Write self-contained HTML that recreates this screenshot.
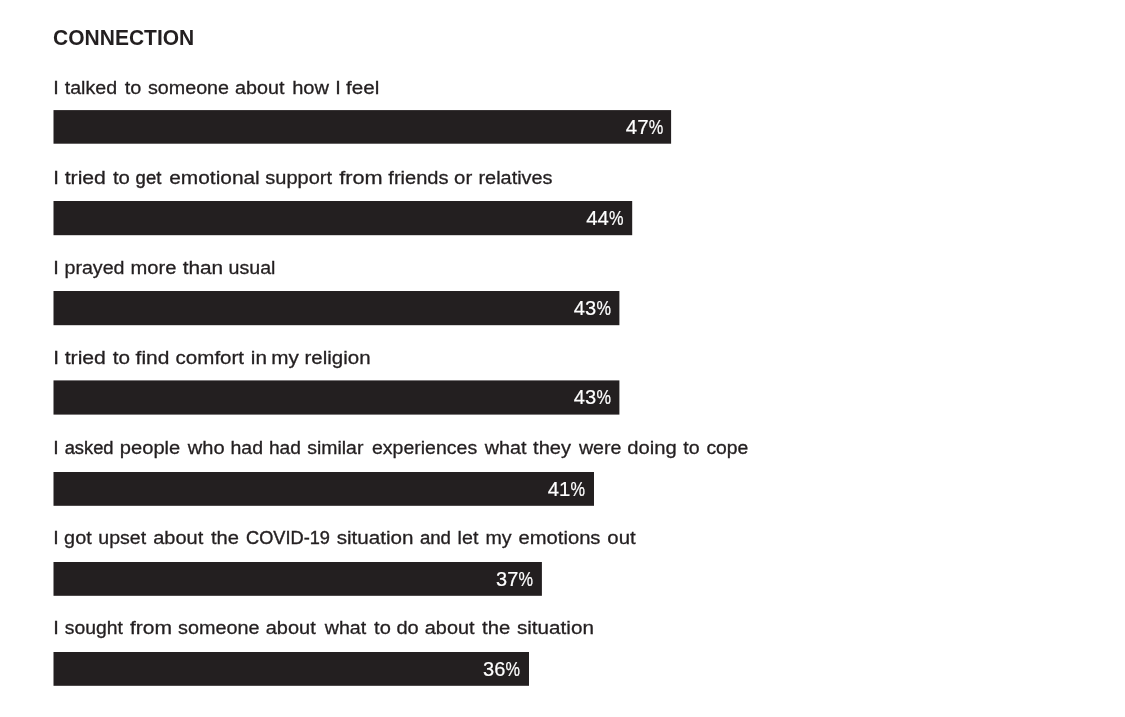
<!DOCTYPE html>
<html lang="en"><head><meta charset="utf-8"><title>Connection</title>
<style>
html,body{margin:0;padding:0;background:#fff;}
body{width:1125px;height:717px;position:relative;overflow:hidden;font-family:"Liberation Sans",sans-serif;color:#231f20;}
.h{position:absolute;left:0;top:0;margin:0;white-space:nowrap;line-height:1;transform-origin:0 0;font-weight:bold;}
.l{position:absolute;left:0;top:0;margin:0;font-size:19.10px;line-height:1;-webkit-text-stroke:0.3px #231f20;}
.l span{position:absolute;left:0;top:0;white-space:nowrap;transform-origin:0 0;}
.b{position:absolute;pointer-events:none;}
.p{position:absolute;left:0;top:0;line-height:1;color:#fff;-webkit-text-stroke:0.2px #fff;}
.p span{position:absolute;left:0;top:0;white-space:nowrap;transform-origin:0 0;}
</style></head><body>
<h1 class="h" style="font-size:21.60px;transform:translate(53.10px,26.92px) scaleX(0.9723)">CONNECTION</h1>
<p class="l"><span style="-webkit-text-stroke-width:0.30px;transform:translate(53.30px,78.13px) scaleX(1.0403)">I</span> <span style="-webkit-text-stroke-width:0.30px;transform:translate(64.70px,78.13px) scaleX(1.0272)">talked</span> <span style="-webkit-text-stroke-width:0.30px;transform:translate(124.74px,78.13px) scaleX(1.0403)">to</span> <span style="-webkit-text-stroke-width:0.30px;transform:translate(147.90px,78.13px) scaleX(1.0330)">someone</span> <span style="-webkit-text-stroke-width:0.30px;transform:translate(235.10px,78.13px) scaleX(1.0335)">about</span> <span style="-webkit-text-stroke-width:0.30px;transform:translate(292.15px,78.13px) scaleX(1.0515)">how</span> <span style="-webkit-text-stroke-width:0.30px;transform:translate(335.25px,78.13px) scaleX(1.0403)">I</span> <span style="-webkit-text-stroke-width:0.30px;transform:translate(346.00px,78.13px) scaleX(1.0798)">feel</span></p>
<svg class="b" width="1125" height="717" viewBox="0 0 1125 717" style="left:0;top:0"><rect x="53.50" y="110.10" width="617.60" height="33.60" fill="#231f20"/></svg>
<div class="p" style="font-size:20.30px"><span style="transform:translate(625.80px,117.02px) scaleX(1.0099)">47</span><span style="transform:translate(648.80px,117.02px) scaleX(0.8056)">%</span></div>
<p class="l"><span style="-webkit-text-stroke-width:0.30px;transform:translate(53.23px,167.98px) scaleX(1.0667)">I</span> <span style="-webkit-text-stroke-width:0.30px;transform:translate(64.70px,167.98px) scaleX(1.1089)">tried</span> <span style="-webkit-text-stroke-width:0.30px;transform:translate(112.89px,167.98px) scaleX(1.0667)">to</span> <span style="-webkit-text-stroke-width:0.39px;transform:translate(135.60px,167.98px) scaleX(0.9692)">get</span> <span style="-webkit-text-stroke-width:0.30px;transform:translate(169.20px,167.98px) scaleX(1.0938)">emotional</span> <span style="-webkit-text-stroke-width:0.30px;transform:translate(265.30px,167.98px) scaleX(1.0484)">support</span> <span style="-webkit-text-stroke-width:0.30px;transform:translate(339.20px,167.98px) scaleX(1.1373)">from</span> <span style="-webkit-text-stroke-width:0.30px;transform:translate(388.30px,167.98px) scaleX(1.0518)">friends</span> <span style="-webkit-text-stroke-width:0.30px;transform:translate(454.05px,167.98px) scaleX(1.0667)">or</span> <span style="-webkit-text-stroke-width:0.30px;transform:translate(478.46px,167.98px) scaleX(1.0424)">relatives</span></p>
<svg class="b" width="1125" height="717" viewBox="0 0 1125 717" style="left:0;top:0"><rect x="53.50" y="201.00" width="578.70" height="34.20" fill="#231f20"/></svg>
<div class="p" style="font-size:20.30px"><span style="transform:translate(586.30px,207.92px) scaleX(1.0009)">44</span><span style="transform:translate(609.10px,207.92px) scaleX(0.8056)">%</span></div>
<p class="l"><span style="-webkit-text-stroke-width:0.30px;transform:translate(53.28px,257.98px) scaleX(1.0471)">I</span> <span style="-webkit-text-stroke-width:0.30px;transform:translate(64.47px,257.98px) scaleX(1.0289)">prayed</span> <span style="-webkit-text-stroke-width:0.30px;transform:translate(130.54px,257.98px) scaleX(1.0553)">more</span> <span style="-webkit-text-stroke-width:0.30px;transform:translate(182.70px,257.98px) scaleX(1.0891)">than</span> <span style="-webkit-text-stroke-width:0.30px;transform:translate(228.57px,257.98px) scaleX(1.0276)">usual</span></p>
<svg class="b" width="1125" height="717" viewBox="0 0 1125 717" style="left:0;top:0"><rect x="53.50" y="291.00" width="565.90" height="34.20" fill="#231f20"/></svg>
<div class="p" style="font-size:20.30px"><span style="transform:translate(573.80px,297.92px) scaleX(0.9919)">43</span><span style="transform:translate(596.40px,297.92px) scaleX(0.8056)">%</span></div>
<p class="l"><span style="-webkit-text-stroke-width:0.30px;transform:translate(53.19px,347.98px) scaleX(1.0844)">I</span> <span style="-webkit-text-stroke-width:0.30px;transform:translate(64.70px,347.98px) scaleX(1.1089)">tried</span> <span style="-webkit-text-stroke-width:0.30px;transform:translate(112.75px,347.98px) scaleX(1.0844)">to</span> <span style="-webkit-text-stroke-width:0.30px;transform:translate(135.60px,347.98px) scaleX(1.0973)">find</span> <span style="-webkit-text-stroke-width:0.30px;transform:translate(175.60px,347.98px) scaleX(1.0753)">comfort</span> <span style="-webkit-text-stroke-width:0.30px;transform:translate(250.79px,347.98px) scaleX(1.0844)">in</span> <span style="-webkit-text-stroke-width:0.30px;transform:translate(271.16px,347.98px) scaleX(1.0844)">my</span> <span style="-webkit-text-stroke-width:0.30px;transform:translate(304.53px,347.98px) scaleX(1.0727)">religion</span></p>
<svg class="b" width="1125" height="717" viewBox="0 0 1125 717" style="left:0;top:0"><rect x="53.50" y="380.40" width="565.90" height="34.20" fill="#231f20"/></svg>
<div class="p" style="font-size:20.30px"><span style="transform:translate(573.80px,387.42px) scaleX(0.9919)">43</span><span style="transform:translate(596.40px,387.42px) scaleX(0.8056)">%</span></div>
<p class="l"><span style="-webkit-text-stroke-width:0.31px;transform:translate(53.34px,437.93px) scaleX(1.0253)">I</span> <span style="-webkit-text-stroke-width:0.41px;transform:translate(64.70px,437.93px) scaleX(0.9576)">asked</span> <span style="-webkit-text-stroke-width:0.30px;transform:translate(119.85px,437.93px) scaleX(1.0535)">people</span> <span style="-webkit-text-stroke-width:0.30px;transform:translate(187.85px,437.93px) scaleX(1.0506)">who</span> <span style="-webkit-text-stroke-width:0.31px;transform:translate(230.48px,437.93px) scaleX(1.0219)">had</span> <span style="-webkit-text-stroke-width:0.34px;transform:translate(268.89px,437.93px) scaleX(1.0054)">had</span> <span style="-webkit-text-stroke-width:0.32px;transform:translate(307.20px,437.93px) scaleX(1.0180)">similar</span> <span style="-webkit-text-stroke-width:0.31px;transform:translate(372.00px,437.93px) scaleX(1.0214)">experiences</span> <span style="-webkit-text-stroke-width:0.30px;transform:translate(484.74px,437.93px) scaleX(1.0350)">what</span> <span style="-webkit-text-stroke-width:0.30px;transform:translate(533.10px,437.93px) scaleX(1.0508)">they</span> <span style="-webkit-text-stroke-width:0.30px;transform:translate(578.93px,437.93px) scaleX(1.0271)">were</span> <span style="-webkit-text-stroke-width:0.30px;transform:translate(627.20px,437.93px) scaleX(1.0586)">doing</span> <span style="-webkit-text-stroke-width:0.31px;transform:translate(683.20px,437.93px) scaleX(1.0253)">to</span> <span style="-webkit-text-stroke-width:0.33px;transform:translate(706.40px,437.93px) scaleX(1.0126)">cope</span></p>
<svg class="b" width="1125" height="717" viewBox="0 0 1125 717" style="left:0;top:0"><rect x="53.50" y="472.00" width="540.50" height="33.80" fill="#231f20"/></svg>
<div class="p" style="font-size:20.30px"><span style="transform:translate(547.70px,478.82px) scaleX(1.0009)">41</span><span style="transform:translate(570.50px,478.82px) scaleX(0.8056)">%</span></div>
<p class="l"><span style="-webkit-text-stroke-width:0.30px;transform:translate(53.33px,527.93px) scaleX(1.0290)">I</span> <span style="-webkit-text-stroke-width:0.30px;transform:translate(64.10px,527.93px) scaleX(1.0390)">got</span> <span style="-webkit-text-stroke-width:0.31px;transform:translate(98.28px,527.93px) scaleX(1.0236)">upset</span> <span style="-webkit-text-stroke-width:0.30px;transform:translate(153.20px,527.93px) scaleX(1.0459)">about</span> <span style="-webkit-text-stroke-width:0.30px;transform:translate(211.00px,527.93px) scaleX(1.0569)">the</span> <span style="-webkit-text-stroke-width:0.42px;transform:translate(246.10px,527.93px) scaleX(0.9514)">COVID-19</span> <span style="-webkit-text-stroke-width:0.30px;transform:translate(336.70px,527.93px) scaleX(1.0809)">situation</span> <span style="-webkit-text-stroke-width:0.39px;transform:translate(419.90px,527.93px) scaleX(0.9732)">and</span> <span style="-webkit-text-stroke-width:0.30px;transform:translate(457.60px,527.93px) scaleX(1.0290)">let</span> <span style="-webkit-text-stroke-width:0.30px;transform:translate(485.41px,527.93px) scaleX(1.0290)">my</span> <span style="-webkit-text-stroke-width:0.30px;transform:translate(518.50px,527.93px) scaleX(1.0581)">emotions</span> <span style="-webkit-text-stroke-width:0.30px;transform:translate(607.30px,527.93px) scaleX(1.0684)">out</span></p>
<svg class="b" width="1125" height="717" viewBox="0 0 1125 717" style="left:0;top:0"><rect x="53.50" y="562.00" width="488.40" height="33.80" fill="#231f20"/></svg>
<div class="p" style="font-size:20.30px"><span style="transform:translate(496.10px,569.22px) scaleX(0.9830)">37</span><span style="transform:translate(518.50px,569.22px) scaleX(0.8056)">%</span></div>
<p class="l"><span style="-webkit-text-stroke-width:0.30px;transform:translate(53.28px,617.93px) scaleX(1.0496)">I</span> <span style="-webkit-text-stroke-width:0.32px;transform:translate(64.70px,617.93px) scaleX(1.0151)">sought</span> <span style="-webkit-text-stroke-width:0.30px;transform:translate(130.00px,617.93px) scaleX(1.1024)">from</span> <span style="-webkit-text-stroke-width:0.30px;transform:translate(178.00px,617.93px) scaleX(1.0369)">someone</span> <span style="-webkit-text-stroke-width:0.30px;transform:translate(265.70px,617.93px) scaleX(1.0459)">about</span> <span style="-webkit-text-stroke-width:0.30px;transform:translate(324.73px,617.93px) scaleX(1.0279)">what</span> <span style="-webkit-text-stroke-width:0.30px;transform:translate(374.07px,617.93px) scaleX(1.0496)">to</span> <span style="-webkit-text-stroke-width:0.30px;transform:translate(396.38px,617.93px) scaleX(1.0496)">do</span> <span style="-webkit-text-stroke-width:0.30px;transform:translate(424.80px,617.93px) scaleX(1.0397)">about</span> <span style="-webkit-text-stroke-width:0.30px;transform:translate(482.00px,617.93px) scaleX(1.0608)">the</span> <span style="-webkit-text-stroke-width:0.30px;transform:translate(516.90px,617.93px) scaleX(1.0823)">situation</span></p>
<svg class="b" width="1125" height="717" viewBox="0 0 1125 717" style="left:0;top:0"><rect x="53.50" y="652.00" width="475.50" height="33.80" fill="#231f20"/></svg>
<div class="p" style="font-size:20.30px"><span style="transform:translate(483.00px,659.22px) scaleX(0.9875)">36</span><span style="transform:translate(505.50px,659.22px) scaleX(0.8056)">%</span></div>
</body></html>
